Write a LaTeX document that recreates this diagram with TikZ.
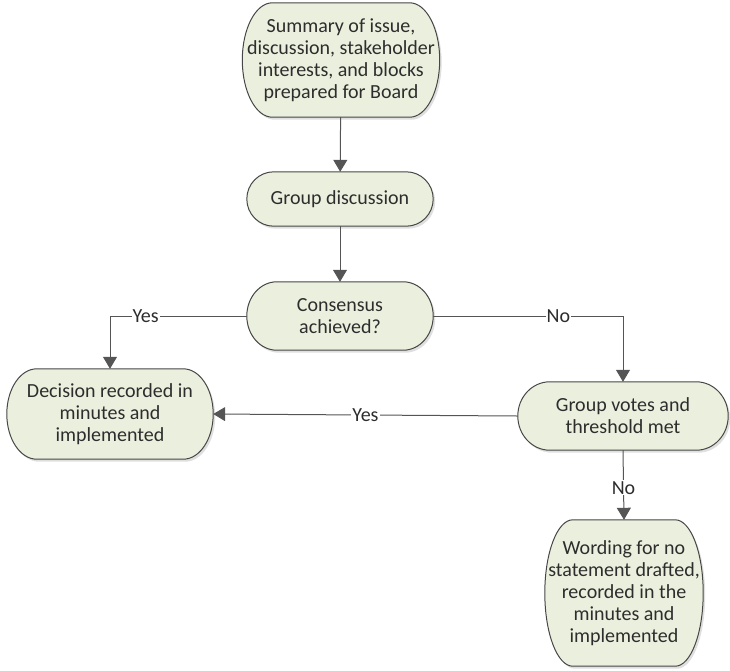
\documentclass[tikz,border=0pt]{standalone}
\usepackage{fontspec}
\setmainfont{Carlito}
\usetikzlibrary{arrows.meta,calc,shadows,backgrounds}
\definecolor{fillc}{RGB}{235,240,222}
\definecolor{linec}{RGB}{70,70,70}
\definecolor{connc}{RGB}{85,85,85}
\definecolor{textc}{RGB}{45,45,45}
\begin{document}
\begin{tikzpicture}[x=1pt,y=1pt,
  box/.style={draw=none, align=center, text=textc, font=\fontsize{20}{22}\selectfont, inner sep=0pt},
  conn/.style={draw=connc, line width=1pt, -{Triangle[length=12pt,width=14pt]}},
  lab/.style={fill=white, text=textc, font=\fontsize{20}{22}\selectfont, inner sep=1pt},
  termshape/.style={draw=linec, fill=fillc, line width=1pt,
    drop shadow={shadow xshift=2pt, shadow yshift=-2.5pt, opacity=0.25}}]
\useasboundingbox (0,0) rectangle (730,-670);

\node[box, minimum width=197pt, minimum height=114pt] (top) at (341,-60)
  {Summary of issue,\\discussion, stakeholder\\interests, and blocks\\prepared for Board};
\node[box, minimum width=186pt, minimum height=54pt] (gd) at (340,-199) {Group discussion};
\node[box, minimum width=186pt, minimum height=68pt] (cons) at (340,-316) {Consensus\\achieved?};
\node[box, minimum width=206pt, minimum height=90pt] (dec) at (110,-414)
  {Decision recorded in\\minutes and\\implemented};
\node[box, minimum width=210pt, minimum height=68pt] (votes) at (623,-416)
  {Group votes and\\threshold met};
\node[box, minimum width=158pt, minimum height=146pt] (word) at (624,-593)
  {Wording for no\\statement drafted,\\recorded in the\\minutes and\\implemented};

\begin{scope}[on background layer]
\foreach \nm/\r in {top/30,gd/27,cons/30,dec/30,votes/32,word/28}{
  \path[termshape] let \p1=(\nm.north east), \p2=(\nm.south west), \n1={(\y1-\y2)/2} in
    (\x1-\r pt,\y1) arc[start angle=90, end angle=-90, x radius=\r pt, y radius=\n1]
    -- (\x2+\r pt,\y2) arc[start angle=270, end angle=90, x radius=\r pt, y radius=\n1]
    -- cycle;
}
\end{scope}

\draw[conn] (top) -- (gd);
\draw[conn] (gd) -- (cons);
\draw[conn] (cons.west) -| node[lab, pos=0.37] {Yes} (dec.north);
\draw[conn] (cons.east) -| node[lab, pos=0.33] {No} (votes.north);
\draw[conn] (votes.west) -- node[lab, pos=0.5] {Yes} (dec.east);
\draw[conn] (votes.south) -- node[lab, pos=0.54] {No} (word.north);
\end{tikzpicture}
\end{document}
